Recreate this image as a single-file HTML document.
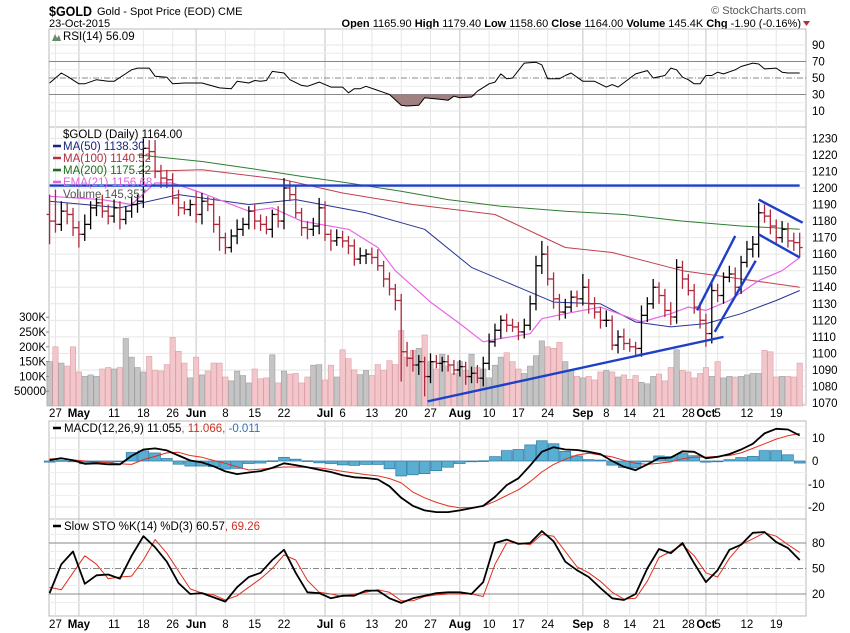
<!DOCTYPE html>
<html><head><meta charset="utf-8">
<style>
html,body{margin:0;padding:0;background:#fff;}
svg{display:block;font-family:"Liberation Sans",Arial,sans-serif;}
</style></head>
<body>
<svg id="c" width="850" height="633" viewBox="0 0 850 633" xmlns="http://www.w3.org/2000/svg">
  <text x="49" y="16" font-size="14" font-weight="bold" fill="#000" textLength="43" lengthAdjust="spacingAndGlyphs">$GOLD</text>
  <text x="97" y="15" font-size="11" fill="#000">Gold - Spot Price (EOD)  CME</text>
  <text x="49" y="27" font-size="11" fill="#000">23-Oct-2015</text>
  <text x="801" y="27" font-size="11" fill="#000" text-anchor="end"><tspan font-weight="bold">Open</tspan> 1165.90 <tspan font-weight="bold">High</tspan> 1179.40 <tspan font-weight="bold">Low</tspan> 1158.60 <tspan font-weight="bold">Close</tspan> 1164.00 <tspan font-weight="bold">Volume</tspan> 145.4K <tspan font-weight="bold">Chg</tspan> -1.90 (-0.16%)</text>
  <path d="M803,21 l7,0 l-3.5,5z" fill="#b03040"/>
  <text x="806" y="14" font-size="11" fill="#555" text-anchor="end">© StockCharts.com</text>
  <g id="grid"></g>
  <g id="marks"></g>
  <g id="labels"></g>
</svg>
<script>
// ---- data ----
const closes = [1180,1178,1186,1184,1176,1172,1178,1188,1191,1186,
1183,1188,1181,1186,1190,1192,1224,1222,1210,1206,
1205,1194,1188,1187,1190,1184,1192,1190,1178,1170,
1164,1171,1175,1178,1186,1180,1178,1175,1184,1180,
1200,1196,1185,1176,1175,1177,1188,1172,1168,1170,
1168,1165,1157,1159,1160,1158,1153,1145,1139,1132,
1101,1097,1093,1095,1086,1095,1094,1095,1093,1090,
1092,1086,1088,1085,1094,1107,1114,1120,1117,1116,
1113,1117,1130,1153,1160,1145,1133,1125,1128,1134,
1133,1140,1130,1125,1120,1120,1105,1110,1106,1104,
1103,1123,1130,1140,1135,1126,1122,1152,1145,1138,
1128,1120,1112,1138,1135,1146,1148,1140,1155,1163,
1166,1185,1183,1177,1170,1175,1168,1167,1164];
const hiX = [12,19,6,5,4,4,6,4,3,5,4,5,4,3,5,4,6,5,7,4,5,4,5,4,3,8,5,3,4,5,3,4,6,4,3,4,4,5,3,5,6,4,5,3,4,5,6,4,3,5,4,3,4,5,3,4,5,3,4,3,4,6,5,4,3,5,4,3,4,3,4,3,4,5,4,5,4,3,4,4,3,4,5,6,8,5,4,3,5,4,4,8,5,4,3,6,3,4,5,3,3,6,4,5,3,4,5,5,4,3,4,3,4,5,4,3,5,4,4,5,5,6,5,4,4,5,4,5,6];
const loX = [14,5,4,6,5,8,4,3,5,4,5,4,6,3,4,5,4,5,4,6,5,4,5,3,4,5,6,4,5,8,4,3,5,4,3,5,4,3,5,4,5,4,3,5,6,4,5,4,6,3,4,5,4,3,5,4,3,5,4,6,18,5,4,6,12,4,3,5,4,3,4,5,4,3,5,4,3,5,4,3,5,4,3,4,5,4,6,5,4,3,5,4,6,4,5,4,3,5,4,3,4,5,4,3,5,4,5,4,6,3,4,5,8,6,4,5,3,5,4,3,5,8,4,5,4,3,4,5,6];
const volumes = [150,200,145,135,200,115,100,105,100,125,
130,125,130,228,165,130,115,168,120,118,
140,232,185,145,95,165,105,118,145,145,
98,85,118,103,78,125,92,95,173,78,
118,108,110,78,98,138,140,88,138,98,
190,160,122,106,120,103,140,120,153,140,
255,165,188,195,240,150,125,175,135,110,
150,120,175,130,125,95,138,165,180,150,
125,110,135,170,220,200,195,215,150,120,
100,95,100,88,115,120,115,98,105,90,
103,80,75,100,108,85,130,190,120,115,
95,110,130,100,150,95,100,98,100,105,
110,110,188,183,98,100,100,98,145];
const ma50Idx = [0,12,22,34,42,54,64,72,80,86,94,100,106,112,118,124,128];
const ma50Val = [1192,1188,1196,1190,1193,1185,1175,1152,1140,1131,1130,1119,1116,1118,1124,1132,1138];
const ma100Idx = [15,26,40,50,62,76,88,96,108,118,128];
const ma100Val = [1210,1211,1205,1197,1190,1184,1164,1161,1150,1145,1140];
const ma200Idx = [15,26,34,43,51,60,68,77,88,98,108,118,128];
const ma200Val = [1220,1216,1212,1207,1203,1198,1193,1189,1186,1184,1180,1177,1175];
const emaIdx = [0,9,14,18,21,26,34,38,43,51,56,59,65,70,74,77,82,84,88,94,101,106,109,112,116,121,125,128];
const emaVal = [1195,1193,1190,1203,1203,1197,1186,1188,1180,1175,1164,1150,1131,1118,1107,1109,1112,1121,1124,1128,1119,1124,1128,1126,1132,1144,1150,1158];
const rsiIdx = [0,2,3,5,6,8,10,11,14,15,17,18,20,21,23,26,29,31,32,34,35,36,37,38,40,41,43,44,46,48,50,51,52,53,54,56,58,60,61,63,64,67,68,69,70,72,73,75,76,77,78,79,81,83,84,85,87,88,89,91,93,95,96,97,100,102,103,105,106,107,108,109,110,111,112,113,114,115,117,118,120,121,122,124,125,126,128];
const rsiVal = [44,56,52,43,43,48,46,46,60,62,62,52,51,43,44,44,38,37,46,44,47,46,47,58,56,48,41,40,45,39,39,32,37,37,40,35,30,17,16,17,26,24,23,28,26,27,34,43,45,55,49,50,68,69,66,49,49,53,56,46,46,39,42,39,55,59,50,53,62,60,51,48,43,43,53,53,57,55,60,64,68,67,61,62,57,56,56];
const gridIdx = [0,2,4,6,8,10,12,14,16,18,20,22,24,26,28,30,32,34,36,38,40,42,44,46,48,50,52,54,56,58,60,62,64,66,68,70,72,74,76,78,80,82,84,86,88,90,92,94,96,98,100,102,104,106,108,110,112,114,116,118,120,122,124,126,128];
const macdVal = [0.4,1.2,0.3,-1.2,-1,-1.5,-1.5,2.2,5,5.5,4.6,2.4,0.2,-0.6,-2.3,-4.5,-5.7,-5,-4.4,-3,-1,-1.8,-2.7,-3.8,-4.8,-6.2,-7.1,-7.4,-8,-11,-16,-19.5,-21.5,-22.2,-22.2,-21.5,-20.5,-19.5,-15.6,-10.5,-7.5,-2,4,6,5,4.8,4,3,0,-2.5,-4,-1.5,1.2,1.5,4.2,4,1.2,1.8,3,5,7.5,12,14,13.7,11.1];
const signalVal = [0.9,1,0.5,0,-0.4,-0.8,-1.2,-1.5,0.6,2,3.5,3.8,2.4,1.6,0.2,-1,-2.5,-3.9,-3.5,-3.1,-2.6,-2.6,-2.8,-3,-3.7,-4.5,-5.2,-5.9,-6.5,-7.6,-9.5,-13.5,-16,-18,-19.5,-20.4,-20.2,-19.6,-17.5,-15,-12.5,-9,-4.8,-1.5,0.8,2.6,3.4,2.6,1.8,0.3,-1,-1.5,-1,-0.4,1,1.7,1.7,2,2.4,3.5,5.5,7.5,9.5,11,12];
const stoKVal = [21,55,70,32,42,43,38,65,88,75,58,33,20,21,16,11,28,40,45,60,72,45,22,21,15,18,18,24,24,15,9.5,15,18,21,22,22,20,34,80,84,79,80,94,82,58,48,40,27,15,13,20,50,73,68,80,56,34,48,72,78,92,93,81,74,60];
const stoDVal = [28,25,45,65,55,38,40,41,60,84,68,47,26,21,19,13,18,28,38,50,66,60,36,22,20,17,20,22,25,22,12,12,17,19,20,20,20,17,55,80,80,78,90,88,70,52,45,35,22,14,15,35,63,70,78,65,45,40,62,78,85,92,88,78,69];
const priceTicks = [1070,1080,1090,1100,1110,1120,1130,1140,1150,1160,1170,1180,1190,1200,1210,1220,1230];
const volTicks = [50,100,150,200,250,300];
const volTickLabels = ["50000","100K","150K","200K","250K","300K"];
const rsiTicks = [10,30,50,70,90];
const macdTicks = [10,0,-10,-20];
const stoTicks = [20,50,80];
const dateIdx = [1,5,11,16,21,25,30,35,40,47,50,55,60,65,70,75,80,85,91,95,99,104,109,112,114,119,124];
const dateLabels = ["27","May","11","18","26","Jun","8","15","22","Jul","6","13","20","27","Aug","10","17","24","Sep","8","14","21","28","Oct","5","12","19"];
const monthFlags = [0,1,0,0,0,1,0,0,0,1,0,0,0,0,1,0,0,0,1,0,0,0,0,1,0,0,0];

// ---- axes ----
const L = 49, R = 806;
const xOf = i => 49.6 + 5.86 * i;
const yP = p => 188 + (1200 - p) * 1.654;
const yV = v => 406 - v * 0.296;
const yR = v => 78 - (v - 50) * 0.825;
const yM = v => 461 - v * 2.3;
const yS = v => 594 - (v - 20) * 0.85;
const NS = "http://www.w3.org/2000/svg";
function mk(tag, attrs, parent) {
  const e = document.createElementNS(NS, tag);
  for (const k in attrs) e.setAttribute(k, attrs[k]);
  parent.appendChild(e);
  return e;
}
const G = document.getElementById('grid');
const M = document.getElementById('marks');
const LB = document.getElementById('labels');

const panels = [[29,127,'rsi-panel'],[127,405,'price-panel'],[421,519,'macd-panel'],[519,616,'sto-panel']];
panels.forEach(p => {
  const r = mk('rect', {x:L, y:p[0], width:R-L, height:p[1]-p[0], fill:'#fff', stroke:'#b8b8b8', 'stroke-width':1}, G);
  
  
});
dateIdx.forEach((di, k) => {
  const x = xOf(di);
  panels.forEach(p => {
    const ln = mk('line', {x1:x, x2:x, y1:p[0], y2:p[1], stroke: monthFlags[k] ? '#c4c4c4' : '#e6e6e6', 'stroke-width':1}, G);
    
    
  });
});
function hline(y, color, dash, name) {
  const ln = mk('line', {x1:L, x2:R, y1:y, y2:y, stroke:color, 'stroke-width':1}, G);
  if (dash) ln.setAttribute('stroke-dasharray', dash);
  
  
}
priceTicks.forEach(t => hline(yP(t), '#e6e6e6', null, 'price-gridline'));
[20,40,60,80].forEach(t => hline(yR(t), '#ececec', null, 'rsi-minor-gridline'));
rsiTicks.forEach(t => hline(yR(t), (t==70||t==30||t==50) ? '#888' : '#e6e6e6', t==50 ? '6,2,1,2' : null, 'rsi-gridline'));
[-15,-5,5,15].forEach(t => hline(yM(t), '#efefef', null, 'macd-minor-gridline'));
macdTicks.forEach(t => hline(yM(t), '#e2e2e2', null, 'macd-gridline'));
[10,30,40,60,70,90].forEach(t => hline(yS(t), '#ececec', null, 'sto-minor-gridline'));
stoTicks.forEach(t => hline(yS(t), '#888', t==50 ? '6,2,1,2' : null, 'sto-gridline'));

function txt(x, y, s, attrs, name, parent) {
  const t = mk('text', Object.assign({x:x, y:y, 'font-size':11.5, fill:'#000'}, attrs), parent || LB);
  t.textContent = s;
  
  
  return t;
}
priceTicks.forEach(t => txt(812, yP(t) + 4, String(t), {}, 'price-tick-label'));
rsiTicks.forEach(t => txt(812, yR(t) + 4, String(t), {}, 'rsi-tick-label'));
macdTicks.forEach(t => txt(t < 0 ? 808 : 812, yM(t) + 4, String(t), {}, 'macd-tick-label'));
stoTicks.forEach(t => txt(812, yS(t) + 4, String(t), {}, 'sto-tick-label'));
volTicks.forEach((t, k) => {
  txt(46, yV(t) + 4, volTickLabels[k], {'text-anchor':'end'}, 'volume-tick-label');
  const ln = mk('line', {x1:46, x2:49, y1:yV(t), y2:yV(t), stroke:'#888'}, LB);
  
  
});
dateIdx.forEach((di, k) => {
  const attrs = {'text-anchor':'middle'};
  if (monthFlags[k]) attrs['font-weight'] = 'bold';
  txt(xOf(di), 417, dateLabels[k], attrs, 'date-axis-label');
  txt(xOf(di), 628, dateLabels[k], attrs, 'date-axis-label-bottom');
});

// ---- volume ----
closes.forEach((c, i) => {
  const up = i === 0 || c >= closes[i - 1];
  const y = yV(volumes[i]);
  const r = mk('rect', {x:xOf(i) - 2.7, y:y, width:5.4, height:406 - y, fill: up ? '#c4c4c4' : '#f2c6ca', stroke: up ? '#a0a0a0' : '#dca0a8', 'stroke-width':0.6}, M);
  
  
});

function poly(idx, vals, yf, color, w, name) {
  const pts = idx.map((ix, k) => xOf(ix).toFixed(1) + ',' + yf(vals[k]).toFixed(1)).join(' ');
  const p = mk('polyline', {points:pts, fill:'none', stroke:color, 'stroke-width':w, 'stroke-linejoin':'round'}, M);
  
  
  return p;
}
poly(ma200Idx, ma200Val, yP, '#2e7d32', 1, 'ma200-line');
poly(ma100Idx, ma100Val, yP, '#c0404c', 1, 'ma100-line');
poly(ma50Idx, ma50Val, yP, '#283593', 1, 'ma50-line');
poly(emaIdx, emaVal, yP, '#e866e8', 1.2, 'ema21-line');

closes.forEach((c, i) => {
  const o = i === 0 ? c + 4 : closes[i - 1];
  const up = c >= o;
  const col = up ? '#000' : '#b0283c';
  const hi = Math.max(o, c) + hiX[i];
  const lo = Math.min(o, c) - loX[i];
  const x = xOf(i);
  const g = mk('g', {stroke:col, 'stroke-width':1.3}, M);
  
  
  mk('line', {x1:x, x2:x, y1:yP(hi), y2:yP(lo)}, g);
  mk('line', {x1:x - 3, x2:x, y1:yP(o), y2:yP(o)}, g);
  mk('line', {x1:x, x2:x + 3, y1:yP(c), y2:yP(c)}, g);
});

const trendA = [[0,1201.5,128,1201.5],[64.5,1071,115,1110],[110.5,1126,117,1171],[113.5,1113,120.5,1156],[121,1193,128.5,1179],[121,1172,128,1158]];
trendA.forEach(t => {
  const ln = mk('line', {x1:xOf(t[0]), y1:yP(t[1]), x2:xOf(t[2]), y2:yP(t[3]), stroke:'#1e3fc8', 'stroke-width':2.4}, M);
  
  
});

(function(){
  let path = '';
  rsiIdx.forEach((ix, k) => { path += (k ? 'L' : 'M') + xOf(ix).toFixed(1) + ',' + Math.max(yR(rsiVal[k]), yR(30)).toFixed(1); });
  path += 'L' + xOf(rsiIdx[rsiIdx.length - 1]) + ',' + yR(30) + 'L' + xOf(rsiIdx[0]) + ',' + yR(30) + 'Z';
  const a = mk('path', {d:path, fill:'#a08080', stroke:'none'}, M);
  
  
})();
poly(rsiIdx, rsiVal, yR, '#000', 1, 'rsi-line');

gridIdx.forEach((ix, k) => {
  const h = macdVal[k] - signalVal[k];
  const y0 = yM(0), y1 = yM(h);
  const r = mk('rect', {x:xOf(ix) - 5.4, y:Math.min(y0, y1), width:10.8, height:Math.max(0.8, Math.abs(y1 - y0)), fill:'#5aaed2', stroke:'#2c7aa6', 'stroke-width':0.7}, M);
  
  
});
poly(gridIdx, signalVal, yM, '#e03020', 1, 'macd-signal-line');
poly(gridIdx, macdVal, yM, '#000', 1.8, 'macd-line');

poly(gridIdx, stoDVal, yS, '#e03020', 1, 'sto-d-line');
poly(gridIdx, stoKVal, yS, '#000', 1.8, 'sto-k-line');

function legendLine(y, color, name) {
  const ln = mk('line', {x1:53, x2:61, y1:y, y2:y, stroke:color, 'stroke-width':2.5}, LB);
  
  
}
txt(63, 40, 'RSI(14) 56.09', {}, 'rsi-legend');
const ic = mk('path', {d:'M52,41 l3,-7 l2,4 l2,-3 l2,6z', fill:'#6a8a6a'}, LB);


txt(63, 138, '$GOLD (Daily) 1164.00', {}, 'price-legend');
legendLine(146, '#1a237e', 'ma50-legend-swatch');
txt(63, 150, 'MA(50) 1138.30', {fill:'#1a237e'}, 'ma50-legend');
legendLine(158, '#b03040', 'ma100-legend-swatch');
txt(63, 162, 'MA(100) 1140.52', {fill:'#b03040'}, 'ma100-legend');
legendLine(170, '#1e6e1e', 'ma200-legend-swatch');
txt(63, 174, 'MA(200) 1175.22', {fill:'#1e6e1e'}, 'ma200-legend');
legendLine(182, '#e060e0', 'ema21-legend-swatch');
txt(63, 186, 'EMA(21) 1156.68', {fill:'#e060e0'}, 'ema21-legend');
txt(63, 198, 'Volume 145,357', {fill:'#555'}, 'volume-legend');
legendLine(428, '#000', 'macd-legend-swatch');
const mt = txt(64, 432, 'MACD(12,26,9) 11.055', {}, 'macd-legend');
const t2 = document.createElementNS(NS, 'tspan'); t2.setAttribute('fill', '#d03020'); t2.textContent = ', 11.066'; mt.appendChild(t2);
const t3 = document.createElementNS(NS, 'tspan'); t3.setAttribute('fill', '#3070c0'); t3.textContent = ', -0.011'; mt.appendChild(t3);
legendLine(526, '#000', 'sto-legend-swatch');
const st = txt(64, 530, 'Slow STO %K(14) %D(3) 60.57', {}, 'sto-legend');
const t4 = document.createElementNS(NS, 'tspan'); t4.setAttribute('fill', '#d03020'); t4.textContent = ', 69.26'; st.appendChild(t4);
</script>
</body></html>
